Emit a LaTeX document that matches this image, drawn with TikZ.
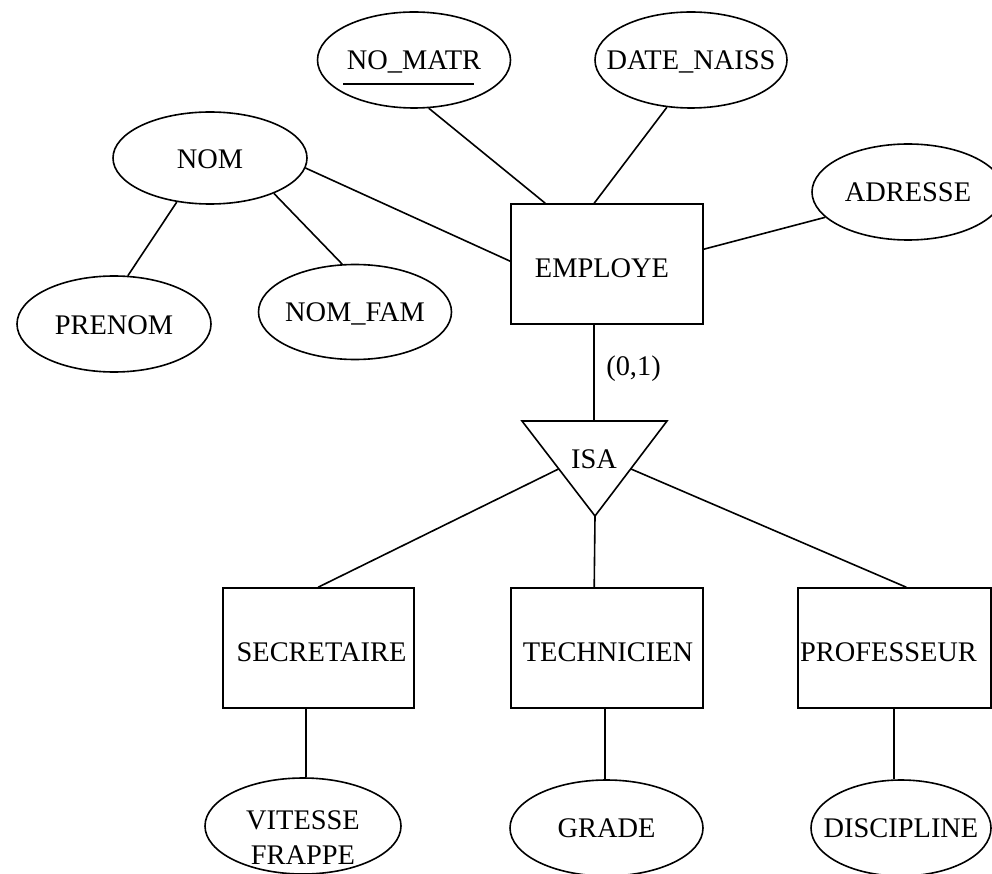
\documentclass[tikz,border=0pt]{standalone}
\usepackage{fontspec}
\setmainfont{Liberation Serif}
\usetikzlibrary{shapes.geometric}
\begin{document}
\begin{tikzpicture}[x=1pt,y=-1pt,
  line width=1.6pt,
  txtfont/.style={font=\fontsize{28.4}{35}\selectfont},
  lbl/.style={txtfont, inner sep=0pt, text height=18.8pt, text depth=0pt},
  lbltwo/.style={txtfont, inner sep=0pt, align=center},
  attr/.style={ellipse, draw, inner sep=0pt, minimum width=192pt, minimum height=96pt},
  entity/.style={rectangle, draw, inner sep=0pt, minimum width=192pt, minimum height=120pt}]
\useasboundingbox (0,0) rectangle (992,874);

% attributes of EMPLOYE
\node[attr, minimum width=193pt] (nomatr) at (414,60) {};
\node[lbl] (nomatrtxt) at (nomatr.center) {NO\_MATR};
\draw[line width=1.6pt] ([shift={(-71pt,-24pt)}]nomatr.center) -- ([shift={(60pt,-24pt)}]nomatr.center);
\node[attr, label={[lbl]center:DATE\_NAISS}] (datenaiss) at (691,60) {};
\node[attr, minimum width=194pt, minimum height=92pt, label={[lbl,yshift=-1pt]center:NOM}] (nom) at (210,158) {};
\node[attr, minimum width=194pt, label={[lbl,yshift=-1pt]center:PRENOM}] (prenom) at (114,324) {};
\node[attr, minimum width=193pt, minimum height=95pt, label={[lbl]center:NOM\_FAM}] (nomfam) at (355,312) {};
\node[attr, label={[lbl]center:ADRESSE}] (adresse) at (908,192) {};

% entities
\node[entity, label={[lbl,xshift=-5pt,yshift=-4pt]center:EMPLOYE}] (employe) at (607,264) {};
\node[entity, minimum width=191pt, label={[lbl,xshift=3pt,yshift=-4pt]center:SECRETAIRE}] (secretaire) at (318.5,648) {};
\node[entity, label={[lbl,xshift=1pt,yshift=-4pt]center:TECHNICIEN}] (technicien) at (607,648) {};
\node[entity, minimum width=193pt, label={[lbl,xshift=-6pt,yshift=-4pt]center:PROFESSEUR}] (professeur) at (894.5,648) {};

% attributes of the sub-entities
\node[attr, minimum width=196pt, label={[lbltwo,yshift=-12pt]center:VITESSE\\FRAPPE}] (vitesse) at (303,826) {};
\node[attr, minimum width=193pt, label={[lbl]center:GRADE}] (grade) at (606.5,828) {};
\node[attr, minimum width=180pt, label={[lbl]center:DISCIPLINE}] (discipline) at (901,828) {};

% ISA triangle
\coordinate (isaTL) at (522,421);
\coordinate (isaTR) at (667,421);
\coordinate (isaB) at (595,516);
\coordinate (isaL) at (558.5,469);
\coordinate (isaR) at (631,469);
\draw[line join=miter] (isaTL) -- (isaTR) -- (isaB) -- cycle;
\node[lbl] (isa) at (594,459) {ISA};

% cardinality
\node[txtfont, inner sep=0pt, anchor=base] (card) at (633.5,375) {(0,1)};

% attribute links
\draw (nomatr.-73.7) -- ([xshift=35pt]employe.north west);
\draw (datenaiss.-117.5) -- ([xshift=84pt]employe.north west);
\draw (nom.-6.5) -- ([yshift=-58pt]employe.north west);
\draw (adresse.-163.8) -- ([yshift=-46pt]employe.north east);
\draw (nom.-127.5) -- (prenom.74.8);
\draw (nom.-29.7) -- (nomfam.105.2);

% generalisation links
\coordinate (eb) at ([xshift=84pt]employe.south west);
\draw (eb) -- (eb |- isaTL);
\draw (isaL) -- ([xshift=96pt]secretaire.north west);
\draw (isaB) -- ([xshift=84pt]technicien.north west);
\draw (isaR) -- ([xshift=109pt]professeur.north west);

% sub-entity attribute links
\coordinate (sb) at ([xshift=84pt]secretaire.south west);
\coordinate (tb) at ([xshift=95pt]technicien.south west);
\coordinate (pb) at ([xshift=97pt]professeur.south west);
\draw (sb) -- (sb |- vitesse.north);
\draw (tb) -- (tb |- grade.north);
\draw (pb) -- (pb |- discipline.north);
\end{tikzpicture}
\end{document}
